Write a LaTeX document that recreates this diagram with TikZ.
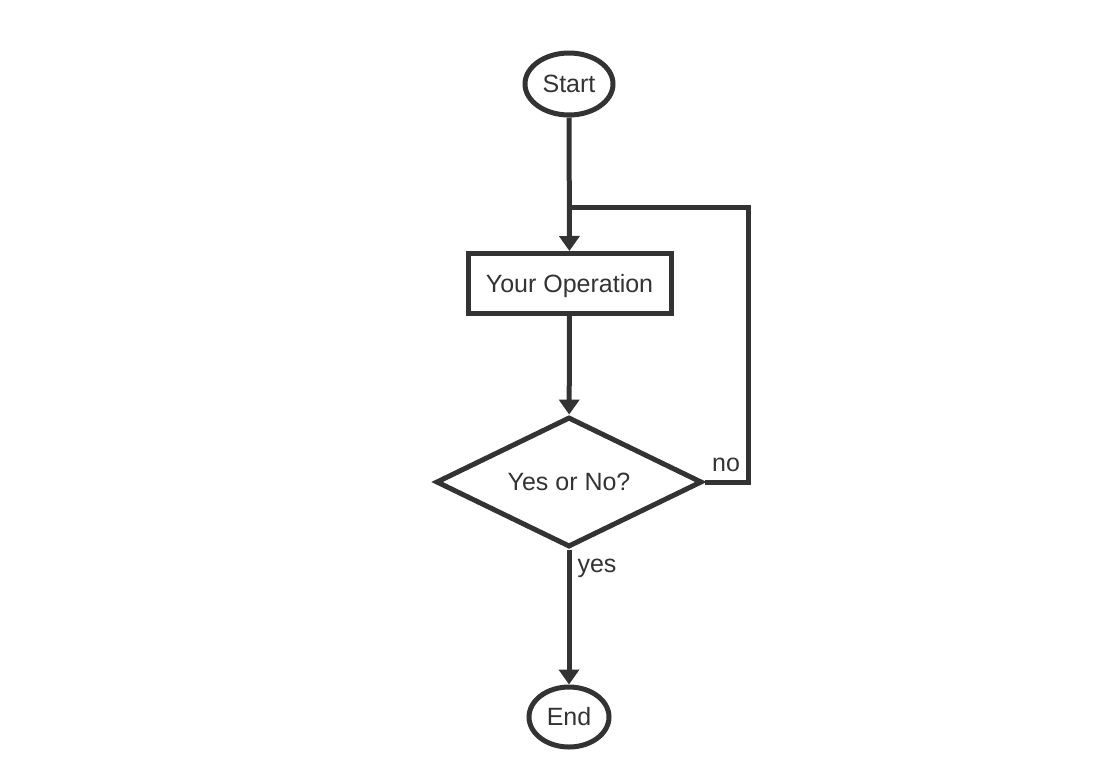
\documentclass[tikz,border=0pt]{standalone}
\usepackage{fontspec}
\setmainfont{Liberation Sans}
\usetikzlibrary{shapes.geometric,arrows.meta}
\definecolor{ink}{HTML}{333333}
\begin{document}
\begin{tikzpicture}[x=1pt,y=-1pt,
  base/.style={draw=ink, line width=5pt, text=ink, inner sep=0pt,
    font=\fontsize{25}{29}\selectfont},
  term/.style={base, ellipse},
  proc/.style={base, rectangle, minimum width=203pt, minimum height=60pt},
  decide/.style={base, diamond, minimum width=266pt, minimum height=130pt},
  conn/.style={draw=ink, line width=5pt},
  arr/.style={conn, -{Triangle[length=15pt,width=20pt]}},
  lbl/.style={text=ink, font=\fontsize{25}{29}\selectfont, inner sep=0pt}]
\useasboundingbox (0,0) rectangle (1113,769);
\node[term, minimum width=88pt, minimum height=62pt] (start) at (569,84) {Start};
\node[proc] (op) at (569.5,283.5) {\raisebox{-2.5pt}[\height][\depth]{Your Operation}};
\node[decide] (dec) at (569,482) {\makebox[0pt]{Yes or No?}};
\node[term, minimum width=80pt, minimum height=60pt] (end) at (569,717) {End};
\coordinate (join) at (569,207);
\draw[arr] (start) -- (op);
\draw[arr] (op) -- (dec);
\draw[arr] (dec) -- (end);
\draw[conn, line join=miter] (dec.east) -- ++(44,0) |- (join);
\node[lbl] (nolbl) at (726,465) {no};
\node[lbl] (yeslbl) at (597,568) {yes};
\end{tikzpicture}
\end{document}
